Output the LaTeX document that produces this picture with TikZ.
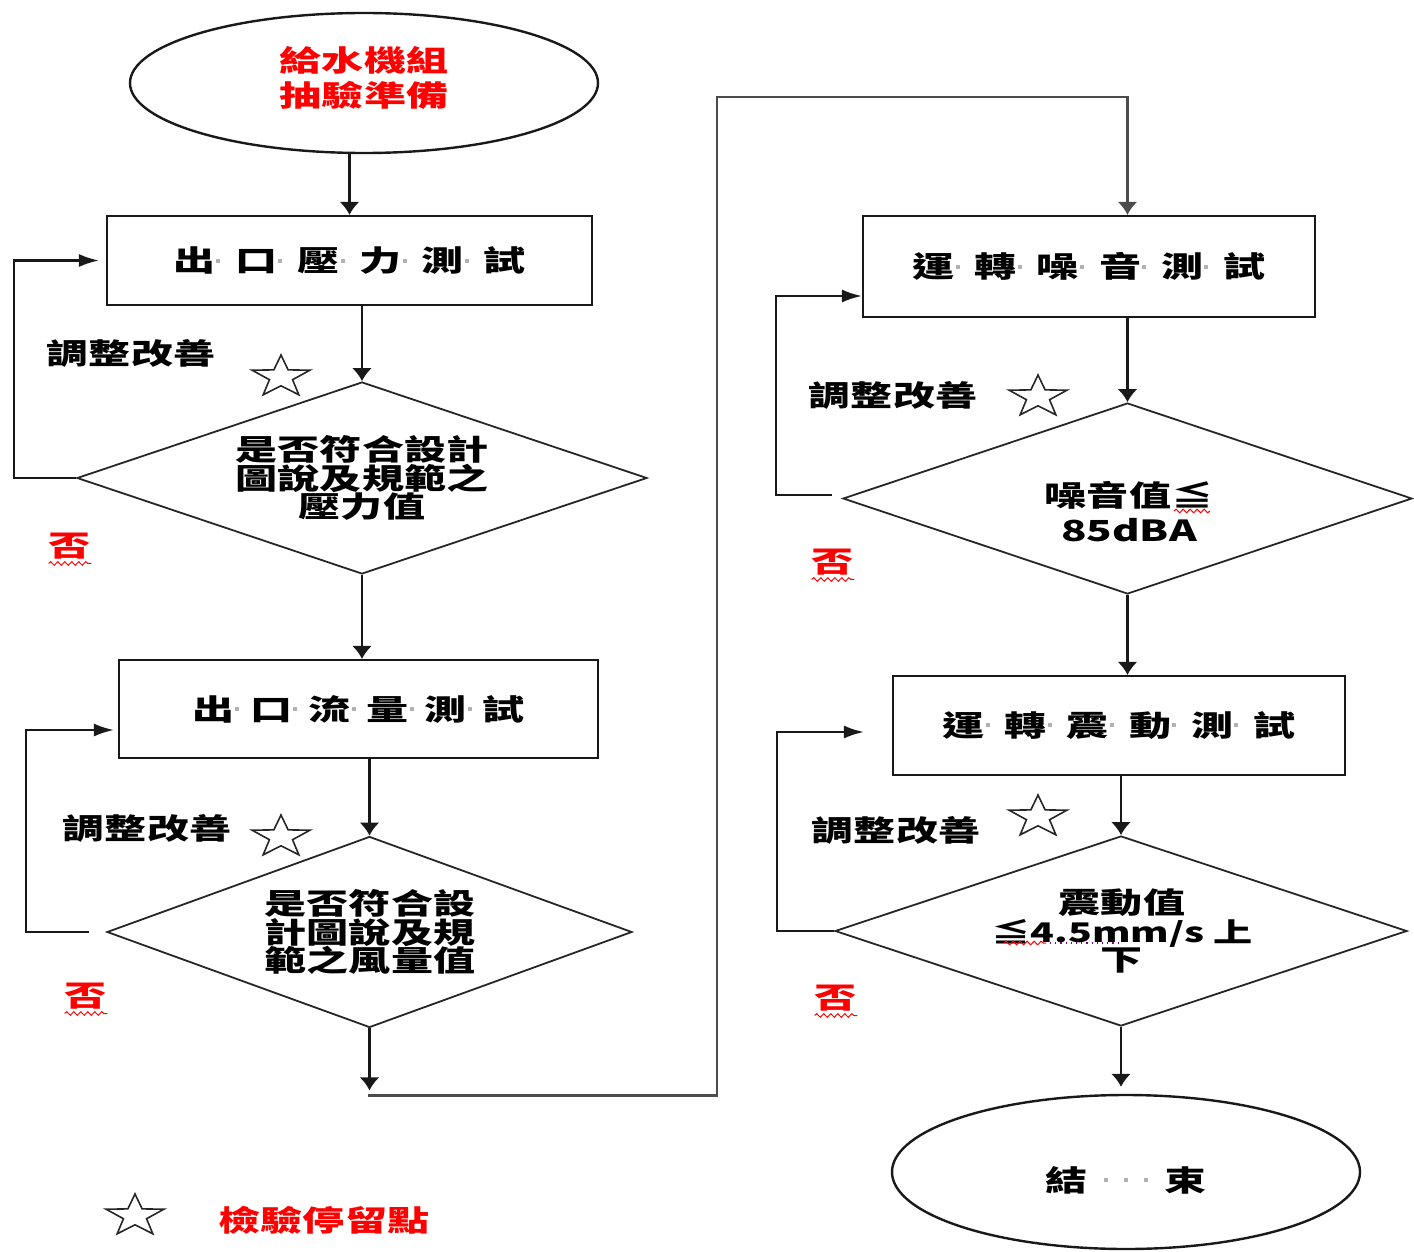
\documentclass[tikz,border=0pt]{standalone}
\usepackage{fontspec}
\usetikzlibrary{shapes.geometric,arrows.meta,decorations.pathmorphing}
% Wide, bold CJK face used for every label
\newfontfamily\cjk[FakeStretch=1.45]{Noto Sans CJK TC}
% small light separator dot between spaced characters
\newcommand\sdot{{\color{black!30}\raisebox{4.5pt}{\rule{2pt}{2pt}}}}
\newcommand\gd[1][10pt]{\makebox[#1][l]{\hspace{0.5pt}\sdot}}

\begin{document}
\begin{tikzpicture}[x=0.5pt,y=-0.5pt,
  line/.style={line width=1.1pt, draw=black!90},
  varr/.style={line, -{Latex[length=6.5pt,width=10pt]}},
  harr/.style={line, -{Latex[length=10pt,width=6.5pt]}},
  stepbox/.style={rectangle, draw=black!90, line width=1.1pt, inner sep=0pt,
    font=\cjk\bfseries\fontsize{14.5}{17.5}\selectfont},
  check/.style={diamond, draw=black!85, line width=0.9pt, inner sep=0pt},
  term/.style={ellipse, draw=black!90, line width=1.2pt, inner sep=0pt},
  lab/.style={font=\cjk\bfseries\fontsize{14.5}{17.5}\selectfont, inner sep=0pt, align=center},
  dlab/.style={font=\cjk\bfseries\fontsize{14.5}{14.3}\selectfont, inner sep=0pt, align=center},
  hold/.style={star, star points=5, star point ratio=2.5, draw=black!85, line width=0.8pt,
    minimum size=22pt, inner sep=0pt, transform shape},
  wavy/.style={draw=red, line width=0.5pt, decorate,
    decoration={snake, amplitude=0.9pt, segment length=3.5pt}},
]
\useasboundingbox (0,0) rectangle (1414,1252);

% ---------- left column ----------
\node[term, minimum width=234pt, minimum height=70pt] (start) at (364,83) {};
\node[lab, text=red] (starttxt) at (364,78) {給水機組\\抽驗準備};

\node[stepbox, minimum width=242.5pt, minimum height=44.5pt] (b1) at (349.5,260.5)
  {出\gd 口\gd 壓\gd 力\gd 測\gd 試};
\node[check, minimum width=285pt, minimum height=96pt] (d1) at (362,478) {};
\node[dlab] (d1txt) at (362,478) {是否符合設計\\圖說及規範之\\壓力值};

\node[stepbox, minimum width=239.5pt, minimum height=49pt] (b2) at (358.5,709)
  {出\gd[8pt]口\gd[8pt]流\gd[8pt]量\gd[8pt]測\gd[8pt]試};
\node[check, minimum width=262.5pt, minimum height=95.5pt] (d2) at (369.5,932) {};
\node[dlab] (d2txt) at (370,932) {是否符合設\\計圖說及規\\範之風量值};

% ---------- right column ----------
\node[stepbox, minimum width=226pt, minimum height=50.5pt] (b3) at (1089,266.5)
  {運\gd 轉\gd 噪\gd 音\gd 測\gd 試};
\node[check, minimum width=284.5pt, minimum height=95.5pt] (d3) at (1127.5,498.5) {};
\node[lab] (d3txt) at (1129,512) {噪音值≦\\85dBA};

\node[stepbox, minimum width=226pt, minimum height=49.5pt] (b4) at (1119,725.5)
  {運\gd 轉\gd 震\gd 動\gd 測\gd 試};
\node[check, minimum width=286pt, minimum height=95pt] (d4) at (1121,931) {};
\node[dlab] (d4txt) at (1122,931) {震動值\\{\fontsize{13.5}{14.3}\selectfont ≦4.5mm/s 上}\\下};

\node[term, minimum width=234pt, minimum height=77pt] (end) at (1126,1172) {};
\node[lab] (endtxt) at (1126,1180)
  {結\makebox[38pt]{\sdot\hspace{8pt}\sdot\hspace{8pt}\sdot}束};

% ---------- main flow ----------
\draw[varr] (start.south -| b1.north) -- (b1.north);
\draw[varr] (b1.south -| d1.north) -- (d1.north);
\draw[varr] (d1.south) -- (d1.south |- b2.north);
\draw[varr] (b2.south -| d2.north) -- (d2.north);
\draw[varr] (d2.south) -- ++(0,62);
\path (d2.south) ++(-1.5,67) coordinate (j);
\coordinate (turn) at (717,97);
\draw[varr, draw=black!70, line width=1.3pt] (j) -| (turn) -- (turn -| d3.north) -- (d3.north |- b3.north);
\draw[varr] (b3.south -| d3.north) -- (d3.north);
\draw[varr] (d3.south) -- (d3.south |- b4.north);
\draw[varr] (b4.south -| d4.north) -- (d4.north);
\draw[varr, shorten >=3.5pt] (d4.south) -- (d4.south |- end.north);

% ---------- rework loops ----------
\draw[harr] (d1.west) -- ++(-62,0) |- ([xshift=-3.5pt]b1.west);
\draw[harr] ([xshift=-8.5pt]d2.west) -- ++(-63,0) |- ([xshift=-2pt,yshift=-10.5pt]b2.west);
\draw[harr] ([xshift=-5pt,yshift=1.75pt]d3.west) -- ++(-56,0) |- ([yshift=-14.75pt]b3.west);
\draw[harr] (d4.west) -- ++(-57,0) |- ([xshift=-14pt,yshift=-3.25pt]b4.west);

% ---------- loop labels ----------
\node[lab] (adj1) at (131,353) {調整改善};
\node[lab] (adj2) at (147,828) {調整改善};
\node[lab] (adj3) at (893,395) {調整改善};
\node[lab] (adj4) at (896,830) {調整改善};

\node[lab, text=red] (no1) at (70,546) {否};
\node[lab, text=red] (no2) at (86,996) {否};
\node[lab, text=red] (no3) at (833,562) {否};
\node[lab, text=red] (no4) at (836,998) {否};
\foreach \n in {no1,no2,no3,no4}{
  \draw[wavy] ([yshift=-2pt]\n.south west) -- ([yshift=-2pt]\n.south east);
}

% proofing marks under the limit values
\draw[wavy] (1174,511) -- (1210,511);
\draw[wavy] (1004,943) -- (1046,943);
\draw[draw=violet, line width=0.6pt, dotted] (1050,943) -- (1120,943);

% ---------- hold points ----------
\foreach \px/\py/\q in {281/377/s1, 281/837/s2, 1038/397/s3, 1038/817/s4, 135/1216/s5}{
  \begin{scope}[shift={(\px,\py)}, xscale=1.38]
    \node[hold] (\q) at (0,0) {};
  \end{scope}
}

\node[lab, text=red] (legend) at (324,1220) {檢驗停留點};
\end{tikzpicture}
\end{document}
